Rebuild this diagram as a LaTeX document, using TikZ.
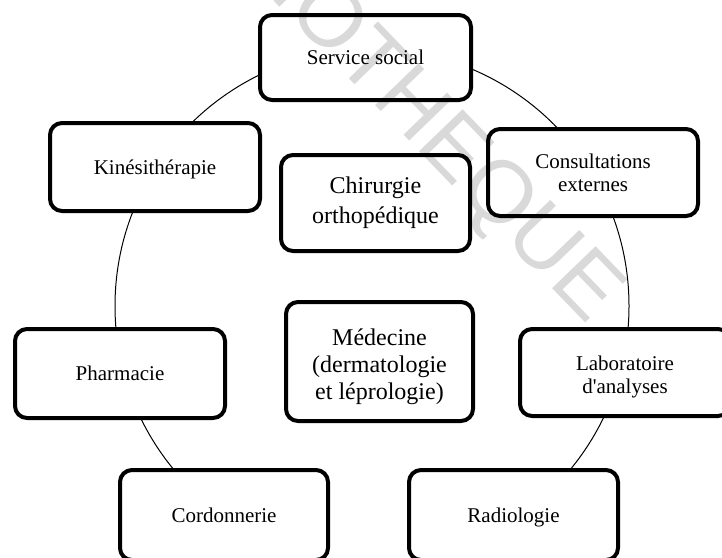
\documentclass[tikz,border=0pt]{standalone}
\usepackage{fontspec}
\setmainfont{Liberation Serif}
\newfontfamily\wmfont{Liberation Sans}
\begin{document}
\begin{tikzpicture}[x=1pt,y=-1pt,
  unitbox/.style={draw=black, line width=4pt, rounded corners=12pt, fill=white,
    align=center, inner sep=0pt, font=\fontsize{21}{23}\selectfont},
  onebox/.style={draw=black, line width=4pt, rounded corners=12pt, fill=white,
    inner sep=0pt, text height=19pt, text depth=5pt, font=\fontsize{21}{23}\selectfont},
  bigbox/.style={unitbox, font=\fontsize{24}{27}\selectfont},
  ring/.style={draw=black, line width=1pt}]
\useasboundingbox (0,0) rectangle (722,557);
\clip (0,0) rectangle (722,557);
\fill[white] (0,0) rectangle (722,557);
\draw[ring] (372,306) circle[radius=257];
\node[onebox, minimum width=211pt, minimum height=85pt] (serv) at (365.5,57.5) {Service social};
\node[unitbox, minimum width=210pt, minimum height=87pt] (cons) at (593,172.5) {Consultations\\externes};
\node[onebox, minimum width=210pt, minimum height=88pt] (kine) at (155,167) {Kinésithérapie};
\node[bigbox, minimum width=189pt, minimum height=96pt, font=\fontsize{24}{30}\selectfont] (chir) at (375.5,203) {Chirurgie\\orthopédique};
\node[onebox, minimum width=210pt, minimum height=89pt] (pharm) at (120,373.5) {Pharmacie};
\node[bigbox, minimum width=187pt, minimum height=119pt] (med) at (379.5,361.5) {\rule{0pt}{27pt}Médecine\\(dermatologie\\et léprologie)};
\node[unitbox, minimum width=210pt, minimum height=87pt] (labo) at (625,372.5) {\rule{0pt}{24pt}Laboratoire\\d\textquotesingle analyses};
\node[onebox, minimum width=208pt, minimum height=90pt] (cord) at (224,515) {Cordonnerie};
\node[onebox, minimum width=209pt, minimum height=90pt] (radio) at (513.5,515) {Radiologie};
\node[text=black, opacity=0.15, inner sep=0pt, anchor=base east, rotate=-46,
  font=\wmfont\fontsize{88}{88}\selectfont] (wm) at (588,326) {BIBLIOTHEQUE};
\end{tikzpicture}
\end{document}
